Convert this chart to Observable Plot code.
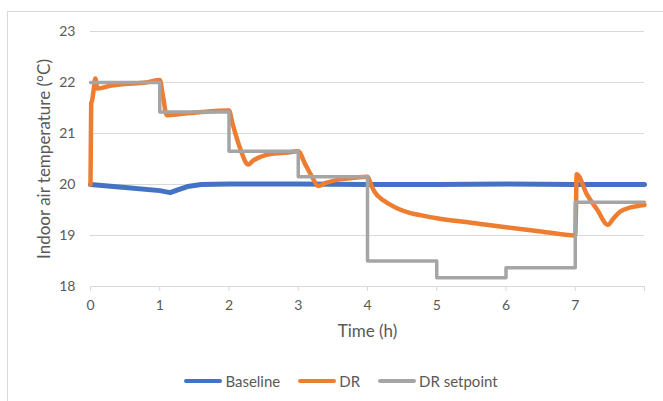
<!DOCTYPE html>
<html>
<head>
<meta charset="utf-8">
<script src="https://cdn.jsdelivr.net/npm/d3@7"></script>
<script src="https://cdn.jsdelivr.net/npm/@observablehq/plot@0.6"></script>
<style>
  html, body { margin: 0; padding: 0; background: #fff; }
  #wrap { position: relative; width: 663px; height: 401px; overflow: hidden; font-family: Lato, "Liberation Sans", sans-serif; }
  #frame { position: absolute; left: 7px; top: 11px; width: 700px; height: 420px; border: 1px solid #D9D9D9; box-sizing: border-box; }
  #chart { position: absolute; left: 0; top: 0; }
  #legend { position: absolute; left: 7px; top: 371px; height: 20px; width: 668px; display: flex; justify-content: center; align-items: center; font-size: 15px; color: #595959; }
  .item { display: flex; align-items: center; margin: 0 9px; }
  .sw { width: 38px; height: 4px; margin-right: 3px; border-radius: 2px; }
</style>
</head>
<body>
<div id="wrap">
  <div id="frame"></div>
  <div id="chart"></div>
  <div id="legend"></div>
</div>
<script>
// ---- data ----
const seriesNames = ["Baseline", "DR", "DR setpoint"];
const seriesColors = ["#4472C4", "#ED7D31", "#A5A5A5"];

const xTicks = [0, 1, 2, 3, 4, 5, 6, 7, 8];
const xTickLabels = ["0", "1", "2", "3", "4", "5", "6", "7", ""];
const yTicks = [18, 19, 20, 21, 22, 23];
const yTickLabels = ["18", "19", "20", "21", "22", "23"];

const baselineTime = [0, 0.5, 1.0, 1.15, 1.25, 1.4, 1.6, 2, 3, 4, 5, 6, 7, 8];
const baselineTemp = [20.0, 19.94, 19.88, 19.84, 19.89, 19.96, 20.0, 20.01, 20.01, 20.0, 20.0, 20.01, 20.0, 20.0];

const drTime = [0, 0.01, 0.02, 0.05, 0.07, 0.1, 0.3, 0.5, 0.8, 1.0, 1.05, 1.1, 1.3, 1.6, 2.0, 2.05, 2.15, 2.28, 2.35, 2.45, 2.6, 2.8, 3.0, 3.1, 3.2, 3.29, 3.4, 3.6, 3.8, 4.0, 4.05, 4.1, 4.25, 4.45, 4.62, 4.8, 5.0, 5.5, 6.0, 6.5, 7.0, 7.01, 7.02, 7.17, 7.32, 7.47, 7.55, 7.65, 7.8, 8.0];
const drTemp = [20.0, 21.6, 21.63, 21.9, 22.08, 21.88, 21.94, 21.97, 22.0, 22.05, 21.7, 21.36, 21.38, 21.42, 21.45, 21.2, 20.75, 20.39, 20.47, 20.54, 20.6, 20.62, 20.65, 20.4, 20.15, 19.97, 20.03, 20.1, 20.13, 20.15, 20.0, 19.86, 19.67, 19.52, 19.44, 19.39, 19.34, 19.25, 19.16, 19.08, 19.0, 19.5, 20.2, 19.8, 19.5, 19.21, 19.33, 19.47, 19.55, 19.6];

const setpointTime = [0, 1, 2, 3, 4, 5, 6, 7, 8];
const setpointTemp = [22.0, 21.42, 20.65, 20.15, 18.5, 18.17, 18.37, 19.65, 19.65];

const yLabel = "Indoor air temperature (°C)";
const xLabel = "Time (h)";

// ---- build ----
const toRows = (ts, vs) => ts.map((t, i) => ({t, v: vs[i]}));
const baseline = toRows(baselineTime, baselineTemp);
const dr = toRows(drTime, drTemp);
const setpoint = toRows(setpointTime, setpointTemp);

const chart = Plot.plot({
  width: 663,
  height: 350,
  marginLeft: 90,
  marginRight: 19,
  marginTop: 31,
  marginBottom: 64,
  x: {domain: [0, 8]},
  y: {domain: [18, 23]},
  style: {fontFamily: "Lato, 'Liberation Sans', sans-serif", fontSize: "14px", color: "#595959", background: "transparent", overflow: "visible"},
  marks: [
    Plot.gridY(yTicks.filter(d => d !== 18), {stroke: "#D9D9D9", strokeOpacity: 1, strokeWidth: 1}),
    Plot.ruleY([18], {stroke: "#D9D9D9", strokeWidth: 1}),
    Plot.axisY({ticks: yTicks, tickSize: 0, tickPadding: 15, label: null, fontSize: 14,
      tickFormat: d => yTickLabels[yTicks.indexOf(d)]}),
    Plot.axisX({ticks: xTicks, tickSize: 5, tickPadding: 9, stroke: "#D9D9D9", strokeOpacity: 1,
      tickFormat: d => xTickLabels[xTicks.indexOf(d)], label: null, fontSize: 14}),
    Plot.text([xLabel], {text: d => d, frameAnchor: "bottom", dy: 45, lineAnchor: "middle", fontSize: 17, fill: "#595959"}),
    Plot.text([yLabel], {text: d => d, frameAnchor: "left", dx: -46, rotate: -90, textAnchor: "middle", lineAnchor: "middle", fontSize: 17, fill: "#595959"}),
    Plot.line(baseline, {x: "t", y: "v", stroke: seriesColors[0], strokeWidth: 5}),
    Plot.line(dr, {x: "t", y: "v", stroke: seriesColors[1], strokeWidth: 4.5, curve: "monotone-x"}),
    Plot.line(setpoint, {x: "t", y: "v", stroke: seriesColors[2], strokeWidth: 3.5, curve: "step-after"})
  ]
});
document.getElementById("chart").appendChild(chart);

const legend = document.getElementById("legend");
seriesNames.forEach((name, i) => {
  const item = document.createElement("div");
  item.className = "item";
  const sw = document.createElement("div");
  sw.className = "sw";
  sw.style.background = seriesColors[i];
  const label = document.createElement("span");
  label.textContent = name;
  item.appendChild(sw);
  item.appendChild(label);
  legend.appendChild(item);
});
</script>
</body>
</html>
